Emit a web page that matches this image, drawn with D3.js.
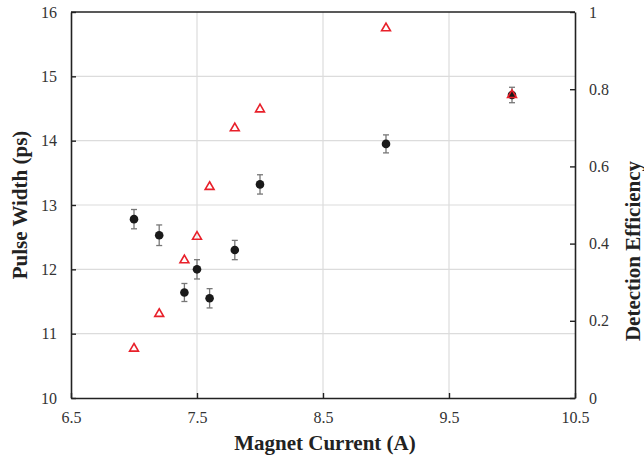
<!DOCTYPE html>
<html><head><meta charset="utf-8">
<script src="https://cdn.jsdelivr.net/npm/d3@7"></script>
<style>body{margin:0;background:#fff}</style>
</head><body>
<svg id="c" width="644" height="456"></svg>
<script>
const current = [7.0, 7.2, 7.4, 7.5, 7.6, 7.8, 8.0, 9.0, 10.0];
const pulseWidth = [12.78, 12.53, 11.64, 12.0, 11.55, 12.30, 13.32, 13.95, 14.71];
const pulseErr = [0.15, 0.16, 0.14, 0.15, 0.15, 0.15, 0.15, 0.14, 0.12];
const efficiency = [0.128, 0.218, 0.357, 0.418, 0.547, 0.699, 0.748, 0.958, 0.785];
const xTicks = [6.5, 7.5, 8.5, 9.5, 10.5];
const yTicks = [10, 11, 12, 13, 14, 15, 16];
const y2Ticks = [0, 0.2, 0.4, 0.6, 0.8, 1];

const m = {l: 71, r: 575, t: 12, b: 398};
const svg = d3.select("#c");
const x = d3.scaleLinear().domain([6.5, 10.5]).range([m.l, m.r]);
const y = d3.scaleLinear().domain([10, 16]).range([m.b, m.t]);
const y2 = d3.scaleLinear().domain([0, 1]).range([m.b, m.t]);
const font = "'Liberation Serif', 'Times New Roman', serif";

// grid
svg.append("g").selectAll("line").data(yTicks.slice(1, -1)).join("line")
  .attr("x1", m.l).attr("x2", m.r).attr("y1", d => y(d)).attr("y2", d => y(d))
  .attr("stroke", "#dcdcdc").attr("stroke-width", 1.2);
svg.append("g").selectAll("line").data(xTicks.slice(1, -1)).join("line")
  .attr("y1", m.t).attr("y2", m.b).attr("x1", d => x(d)).attr("x2", d => x(d))
  .attr("stroke", "#dcdcdc").attr("stroke-width", 1.2);

// axes
const fmt = d => String(d);
const ax = svg.append("g").attr("transform", `translate(0,${m.b})`)
  .call(d3.axisBottom(x).tickValues(xTicks).tickFormat(fmt).tickSizeInner(-5).tickSizeOuter(0).tickPadding(14));
const ayl = svg.append("g").attr("transform", `translate(${m.l},0)`)
  .call(d3.axisLeft(y).tickValues(yTicks).tickFormat(fmt).tickSizeInner(-5).tickSizeOuter(0).tickPadding(14));
const ayr = svg.append("g").attr("transform", `translate(${m.r},0)`)
  .call(d3.axisRight(y2).tickValues(y2Ticks).tickFormat(fmt).tickSizeInner(-5).tickSizeOuter(0).tickPadding(14));
[ax, ayl, ayr].forEach(g => {
  g.select(".domain").attr("stroke", "#222").attr("stroke-width", 1.6);
  g.selectAll(".tick line").attr("stroke", "#222").attr("stroke-width", 1.4);
  g.selectAll(".tick text").attr("fill", "#333").style("font-family", font).style("font-size", "16px");
});
// top border
svg.append("line").attr("x1", m.l).attr("x2", m.r).attr("y1", m.t).attr("y2", m.t)
  .attr("stroke", "#222").attr("stroke-width", 1.6);

// error bars
const eb = svg.append("g").attr("stroke", "#777").attr("stroke-width", 1.3);
current.forEach((c, i) => {
  const cx = x(c), lo = y(pulseWidth[i] - pulseErr[i]), hi = y(pulseWidth[i] + pulseErr[i]);
  eb.append("line").attr("x1", cx).attr("x2", cx).attr("y1", lo).attr("y2", hi);
  eb.append("line").attr("x1", cx - 3).attr("x2", cx + 3).attr("y1", lo).attr("y2", lo);
  eb.append("line").attr("x1", cx - 3).attr("x2", cx + 3).attr("y1", hi).attr("y2", hi);
});
// circles
svg.append("g").selectAll("circle").data(current).join("circle")
  .attr("cx", d => x(d)).attr("cy", (d, i) => y(pulseWidth[i])).attr("r", 4.3)
  .attr("fill", "#1a1a1a");
// triangles
const tri = d3.symbol().type(d3.symbolTriangle).size(34);
svg.append("g").selectAll("path").data(current).join("path")
  .attr("d", tri)
  .attr("transform", (d, i) => `translate(${x(d)},${y2(efficiency[i])})`)
  .attr("fill", "none").attr("stroke", "#e8202a").attr("stroke-width", 1.6);

// titles
svg.append("text").attr("x", 325).attr("y", 450).attr("text-anchor", "middle")
  .style("font-family", font).style("font-size", "21px").style("font-weight", "bold")
  .attr("fill", "#222").text("Magnet Current (A)");
svg.append("text").attr("transform", "translate(27,205) rotate(-90)").attr("text-anchor", "middle")
  .style("font-family", font).style("font-size", "21px").style("font-weight", "bold")
  .attr("fill", "#222").text("Pulse Width (ps)");
svg.append("text").attr("transform", "translate(640,251) rotate(-90)").attr("text-anchor", "middle")
  .style("font-family", font).style("font-size", "21px").style("font-weight", "bold")
  .attr("fill", "#222").text("Detection Efficiency");
</script>
</body></html>
